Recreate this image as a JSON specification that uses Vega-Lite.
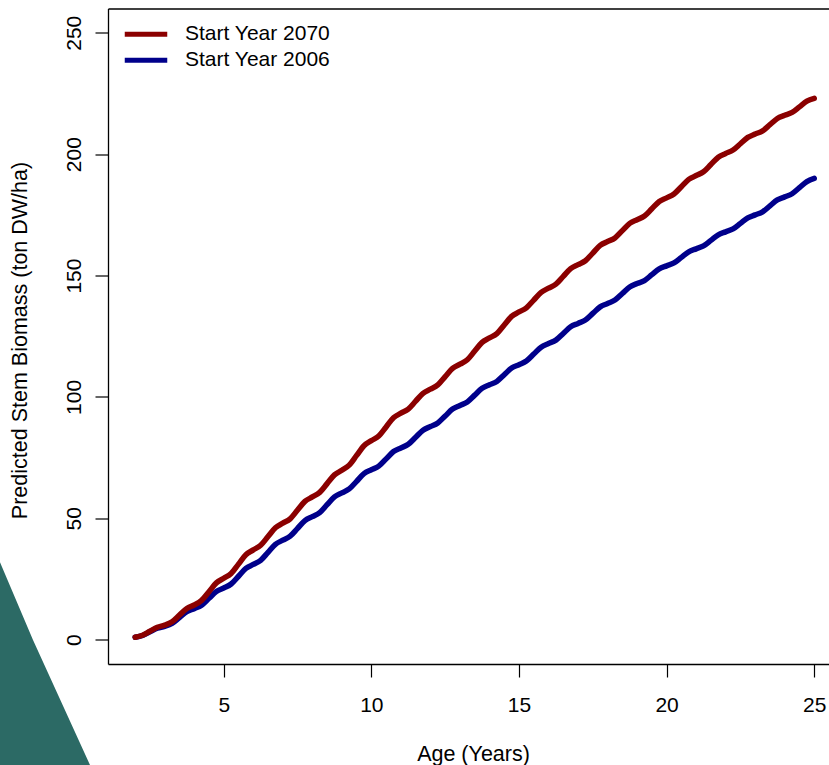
{
  "$schema": "https://vega.github.io/schema/vega-lite/v6.json",
  "width": 721,
  "height": 655.5,
  "autosize": {"type": "none"},
  "padding": {"left": 108, "top": 8.5, "right": 0, "bottom": 101},
  "background": "white",
  "config": {
    "view": {"stroke": null},
    "font": "Liberation Sans",
    "axis": {
      "grid": false,
      "domainColor": "#000000",
      "domainWidth": 1.3,
      "tickColor": "#000000",
      "tickWidth": 1.2,
      "tickSize": 13,
      "labelColor": "#000000",
      "labelFontSize": 21,
      "labelFont": "Liberation Sans",
      "labelOverlap": false,
      "labelFlush": false,
      "titleColor": "#000000",
      "titleFontSize": 21.5,
      "titleFont": "Liberation Sans",
      "titleFontWeight": "normal"
    }
  },
  "datasets": {
    "corner": [
      {"x": -2.75, "edge": 36.9},
      {"x": -2.58, "edge": 32.0},
      {"x": -1.46, "edge": -0.1},
      {"x": 0.47, "edge": -51.6},
      {"x": 0.81, "edge": -61.0}
    ],
    "start2006": [
      {"age": 2, "biomass": 1.0}, {"age": 2.25, "biomass": 1.75}, {"age": 2.5, "biomass": 3.25}, {"age": 2.75, "biomass": 4.75},
      {"age": 3, "biomass": 5.5}, {"age": 3.25, "biomass": 6.75}, {"age": 3.5, "biomass": 9.15}, {"age": 3.75, "biomass": 11.55},
      {"age": 4, "biomass": 12.8}, {"age": 4.25, "biomass": 14.25}, {"age": 4.5, "biomass": 17.05}, {"age": 4.75, "biomass": 19.85},
      {"age": 5, "biomass": 21.3}, {"age": 5.25, "biomass": 22.95}, {"age": 5.5, "biomass": 26.15}, {"age": 5.75, "biomass": 29.35},
      {"age": 6, "biomass": 31.0}, {"age": 6.25, "biomass": 32.7}, {"age": 6.5, "biomass": 36.0}, {"age": 6.75, "biomass": 39.3},
      {"age": 7, "biomass": 41.0}, {"age": 7.25, "biomass": 42.65}, {"age": 7.5, "biomass": 45.85}, {"age": 7.75, "biomass": 49.05},
      {"age": 8, "biomass": 50.7}, {"age": 8.25, "biomass": 52.35}, {"age": 8.5, "biomass": 55.6}, {"age": 8.75, "biomass": 58.85},
      {"age": 9, "biomass": 60.5}, {"age": 9.25, "biomass": 62.1}, {"age": 9.5, "biomass": 65.25}, {"age": 9.75, "biomass": 68.4},
      {"age": 10, "biomass": 70.0}, {"age": 10.25, "biomass": 71.5}, {"age": 10.5, "biomass": 74.5}, {"age": 10.75, "biomass": 77.5},
      {"age": 11, "biomass": 79.0}, {"age": 11.25, "biomass": 80.5}, {"age": 11.5, "biomass": 83.4}, {"age": 11.75, "biomass": 86.3},
      {"age": 12, "biomass": 87.8}, {"age": 12.25, "biomass": 89.3}, {"age": 12.5, "biomass": 92.15}, {"age": 12.75, "biomass": 95.0},
      {"age": 13, "biomass": 96.5}, {"age": 13.25, "biomass": 97.95}, {"age": 13.5, "biomass": 100.75}, {"age": 13.75, "biomass": 103.55},
      {"age": 14, "biomass": 105.0}, {"age": 14.25, "biomass": 106.4}, {"age": 14.5, "biomass": 109.15}, {"age": 14.75, "biomass": 111.9},
      {"age": 15, "biomass": 113.3}, {"age": 15.25, "biomass": 114.8}, {"age": 15.5, "biomass": 117.65}, {"age": 15.75, "biomass": 120.5},
      {"age": 16, "biomass": 122.0}, {"age": 16.25, "biomass": 123.4}, {"age": 16.5, "biomass": 126.15}, {"age": 16.75, "biomass": 128.9},
      {"age": 17, "biomass": 130.3}, {"age": 17.25, "biomass": 131.7}, {"age": 17.5, "biomass": 134.4}, {"age": 17.75, "biomass": 137.1},
      {"age": 18, "biomass": 138.5}, {"age": 18.25, "biomass": 139.9}, {"age": 18.5, "biomass": 142.6}, {"age": 18.75, "biomass": 145.3},
      {"age": 19, "biomass": 146.7}, {"age": 19.25, "biomass": 147.95}, {"age": 19.5, "biomass": 150.35}, {"age": 19.75, "biomass": 152.75},
      {"age": 20, "biomass": 154.0}, {"age": 20.25, "biomass": 155.2}, {"age": 20.5, "biomass": 157.5}, {"age": 20.75, "biomass": 159.8},
      {"age": 21, "biomass": 161.0}, {"age": 21.25, "biomass": 162.2}, {"age": 21.5, "biomass": 164.5}, {"age": 21.75, "biomass": 166.8},
      {"age": 22, "biomass": 168.0}, {"age": 22.25, "biomass": 169.2}, {"age": 22.5, "biomass": 171.5}, {"age": 22.75, "biomass": 173.8},
      {"age": 23, "biomass": 175.0}, {"age": 23.25, "biomass": 176.25}, {"age": 23.5, "biomass": 178.7}, {"age": 23.75, "biomass": 181.15},
      {"age": 24, "biomass": 182.4}, {"age": 24.25, "biomass": 183.7}, {"age": 24.5, "biomass": 186.2}, {"age": 24.75, "biomass": 188.7},
      {"age": 25, "biomass": 190.0}
    ],
    "start2070": [
      {"age": 2, "biomass": 1.0}, {"age": 2.25, "biomass": 1.85}, {"age": 2.5, "biomass": 3.5}, {"age": 2.75, "biomass": 5.15},
      {"age": 3, "biomass": 6.0}, {"age": 3.25, "biomass": 7.4}, {"age": 3.5, "biomass": 10.15}, {"age": 3.75, "biomass": 12.9},
      {"age": 4, "biomass": 14.3}, {"age": 4.25, "biomass": 16.2}, {"age": 4.5, "biomass": 19.8}, {"age": 4.75, "biomass": 23.4},
      {"age": 5, "biomass": 25.3}, {"age": 5.25, "biomass": 27.3}, {"age": 5.5, "biomass": 31.15}, {"age": 5.75, "biomass": 35.0},
      {"age": 6, "biomass": 37.0}, {"age": 6.25, "biomass": 38.9}, {"age": 6.5, "biomass": 42.5}, {"age": 6.75, "biomass": 46.1},
      {"age": 7, "biomass": 48.0}, {"age": 7.25, "biomass": 49.8}, {"age": 7.5, "biomass": 53.4}, {"age": 7.75, "biomass": 57.0},
      {"age": 8, "biomass": 58.8}, {"age": 8.25, "biomass": 60.7}, {"age": 8.5, "biomass": 64.3}, {"age": 8.75, "biomass": 67.9},
      {"age": 9, "biomass": 69.8}, {"age": 9.25, "biomass": 71.9}, {"age": 9.5, "biomass": 75.9}, {"age": 9.75, "biomass": 79.9},
      {"age": 10, "biomass": 82.0}, {"age": 10.25, "biomass": 83.9}, {"age": 10.5, "biomass": 87.65}, {"age": 10.75, "biomass": 91.4},
      {"age": 11, "biomass": 93.3}, {"age": 11.25, "biomass": 95.0}, {"age": 11.5, "biomass": 98.25}, {"age": 11.75, "biomass": 101.5},
      {"age": 12, "biomass": 103.2}, {"age": 12.25, "biomass": 104.95}, {"age": 12.5, "biomass": 108.35}, {"age": 12.75, "biomass": 111.75},
      {"age": 13, "biomass": 113.5}, {"age": 13.25, "biomass": 115.3}, {"age": 13.5, "biomass": 118.9}, {"age": 13.75, "biomass": 122.5},
      {"age": 14, "biomass": 124.3}, {"age": 14.25, "biomass": 126.1}, {"age": 14.5, "biomass": 129.65}, {"age": 14.75, "biomass": 133.2},
      {"age": 15, "biomass": 135.0}, {"age": 15.25, "biomass": 136.7}, {"age": 15.5, "biomass": 139.9}, {"age": 15.75, "biomass": 143.1},
      {"age": 16, "biomass": 144.8}, {"age": 16.25, "biomass": 146.45}, {"age": 16.5, "biomass": 149.65}, {"age": 16.75, "biomass": 152.85},
      {"age": 17, "biomass": 154.5}, {"age": 17.25, "biomass": 156.1}, {"age": 17.5, "biomass": 159.25}, {"age": 17.75, "biomass": 162.4},
      {"age": 18, "biomass": 164.0}, {"age": 18.25, "biomass": 165.5}, {"age": 18.5, "biomass": 168.5}, {"age": 18.75, "biomass": 171.5},
      {"age": 19, "biomass": 173.0}, {"age": 19.25, "biomass": 174.5}, {"age": 19.5, "biomass": 177.5}, {"age": 19.75, "biomass": 180.5},
      {"age": 20, "biomass": 182.0}, {"age": 20.25, "biomass": 183.6}, {"age": 20.5, "biomass": 186.6}, {"age": 20.75, "biomass": 189.6},
      {"age": 21, "biomass": 191.2}, {"age": 21.25, "biomass": 192.75}, {"age": 21.5, "biomass": 195.75}, {"age": 21.75, "biomass": 198.75},
      {"age": 22, "biomass": 200.3}, {"age": 22.25, "biomass": 201.7}, {"age": 22.5, "biomass": 204.3}, {"age": 22.75, "biomass": 206.9},
      {"age": 23, "biomass": 208.3}, {"age": 23.25, "biomass": 209.6}, {"age": 23.5, "biomass": 212.15}, {"age": 23.75, "biomass": 214.7},
      {"age": 24, "biomass": 216.0}, {"age": 24.25, "biomass": 217.2}, {"age": 24.5, "biomass": 219.5}, {"age": 24.75, "biomass": 221.8},
      {"age": 25, "biomass": 223.0}
    ]
  },
  "layer": [
    {
      "data": {"name": "corner"},
      "mark": {"type": "area", "color": "#2c6a65", "clip": false, "interpolate": "linear"},
      "encoding": {
        "x": {"field": "x", "type": "quantitative", "scale": {"domain": [1.08, 25.5], "nice": false, "zero": false}, "axis": null},
        "y": {"field": "edge", "type": "quantitative", "scale": {"domain": [-10, 260], "nice": false, "zero": false}, "axis": null},
        "y2": {"datum": -80}
      }
    },
    {
      "data": {"name": "start2006"},
      "mark": {"type": "line", "strokeWidth": 5.5, "strokeCap": "round", "strokeJoin": "round", "interpolate": "monotone"},
      "encoding": {
        "x": {
          "field": "age", "type": "quantitative",
          "scale": {"domain": [1.08, 25.5], "nice": false, "zero": false},
          "axis": {
            "orient": "bottom",
            "values": [5, 10, 15, 20, 25],
            "labelPadding": 17,
            "title": "Age (Years)",
            "titleX": 365,
            "titleY": 96,
            "titleAlign": "center",
            "titleAnchor": null,
            "titleBaseline": "alphabetic"
          }
        },
        "y": {
          "field": "biomass", "type": "quantitative",
          "scale": {"domain": [-10, 260], "nice": false, "zero": false},
          "axis": {
            "orient": "left",
            "values": [0, 50, 100, 150, 200, 250],
            "labelAngle": 270,
            "labelAlign": "center",
            "labelBaseline": "alphabetic",
            "labelPadding": 15,
            "title": "Predicted Stem Biomass (ton DW/ha)",
            "titleAngle": 270,
            "titleX": -81.3,
            "titleY": 331.5,
            "titleAlign": "center",
            "titleAnchor": null,
            "titleBaseline": "alphabetic"
          }
        },
        "color": {
          "datum": "Start Year 2006",
          "scale": {"domain": ["Start Year 2070", "Start Year 2006"], "range": ["#8b0000", "#00008b"]},
          "legend": {
            "orient": "none",
            "legendX": 27,
            "legendY": 14.8,
            "title": null,
            "padding": 0,
            "symbolType": "M-2.5,0H2.5",
            "symbolSize": 289,
            "symbolStrokeWidth": 5,
            "symbolFillColor": "transparent",
            "labelFontSize": 21,
            "labelFont": "Liberation Sans",
            "labelColor": "#000000",
            "labelOffset": 28,
            "rowPadding": 5
          }
        }
      }
    },
    {
      "data": {"name": "start2070"},
      "mark": {"type": "line", "strokeWidth": 5.5, "strokeCap": "round", "strokeJoin": "round", "interpolate": "monotone"},
      "encoding": {
        "x": {
          "field": "age", "type": "quantitative",
          "scale": {"domain": [1.08, 25.5], "nice": false, "zero": false},
          "axis": {"orient": "top", "labels": false, "ticks": false, "title": null}
        },
        "y": {
          "field": "biomass", "type": "quantitative",
          "scale": {"domain": [-10, 260], "nice": false, "zero": false},
          "axis": null
        },
        "color": {"datum": "Start Year 2070"}
      }
    }
  ],
  "resolve": {"axis": {"x": "independent", "y": "independent"}}
}
